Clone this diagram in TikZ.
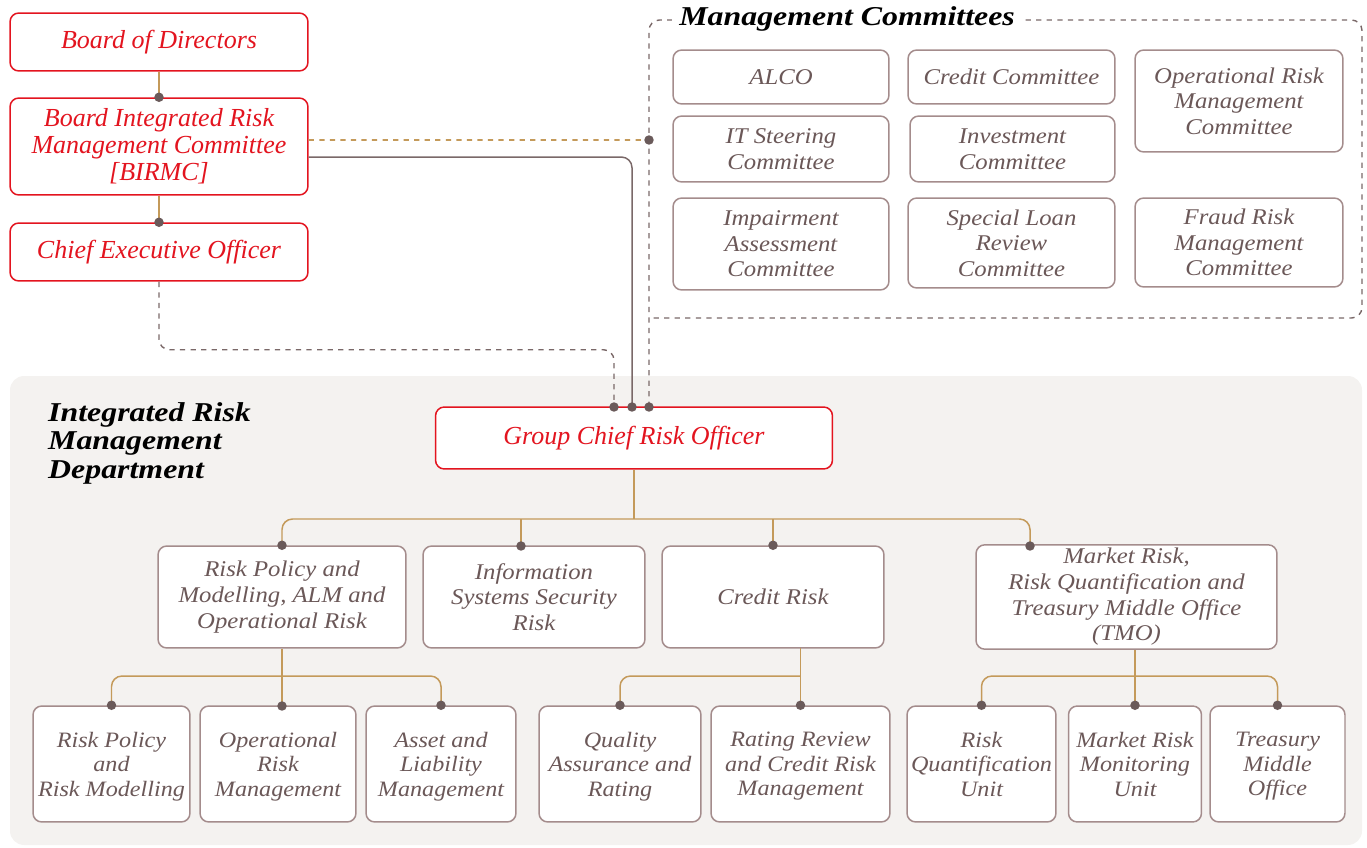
\documentclass[tikz,border=0pt]{standalone}
\usepackage{fontspec}
\setmainfont{Liberation Serif}
\newfontfamily\boxfont{Liberation Serif}[FakeStretch=1.1]
\newfontfamily\headfont{Liberation Serif}[FakeStretch=1.17]
\usepackage{xcolor}
\usetikzlibrary{calc}
\definecolor{crimson}{HTML}{E3141F}
\definecolor{browntext}{HTML}{6B5858}
\definecolor{boxline}{HTML}{A48C8C}
\definecolor{tanline}{HTML}{C49A5A}
\definecolor{greyline}{HTML}{7A6868}
\definecolor{dotc}{HTML}{6A5A5A}
\definecolor{panelc}{HTML}{F4F2F0}

\begin{document}
\begin{tikzpicture}[x=0.02cm,y=-0.02cm,
	box/.style={draw=boxline, line width=0.85pt, fill=white, rounded corners=5pt, align=center, inner sep=2pt, text=browntext, font=\boxfont\itshape\fontsize{12.8}{14.6}\selectfont},
	redbox/.style={box, draw=crimson, text=crimson, font=\itshape\fontsize{14.8}{15.4}\selectfont},
	lowbox/.style={box, font=\boxfont\itshape\fontsize{12.5}{13.9}\selectfont, minimum height=2.32cm, text depth=-6pt},
	title/.style={font=\headfont\bfseries\itshape\fontsize{15.5}{16.2}\selectfont, text=black},
	link/.style={draw=tanline, line width=0.85pt, rounded corners=6pt},
	dashlink/.style={draw=greyline, line width=0.8pt, dashed, rounded corners=6pt},
	tandash/.style={draw=tanline, line width=0.9pt, dashed}]
		\useasboundingbox (0,0) rectangle (1367,848);
		\fill[panelc, rounded corners=8pt] (10,376) rectangle (1362,845);
		\node[title, anchor=north west, align=left] (irmd) at (42,396) {Integrated Risk\\Management\\Department};

		\node[redbox, minimum width=5.96cm, minimum height=1.16cm] (bod) at (159,42) {Board of Directors};
		\node[redbox, minimum width=5.96cm, minimum height=1.94cm] (birmc) at (159,146.5) {Board Integrated Risk\\Management Committee\\{[BIRMC]}};
		\node[redbox, minimum width=5.96cm, minimum height=1.16cm] (ceo) at (159,252) {Chief Executive Officer};

		\coordinate (framein) at (649,140);
		\coordinate (ceoin) at (614,407);
		\coordinate (croin) at (632,407);
		\coordinate (mcin) at (649,407);
		\draw[dashlink] (mcin) |- (1362,20) |- (649,318);
		\node[title, fill=white, anchor=west, inner sep=4pt] (mctitle) at (672,19) {Management Committees};

		\node[box, minimum width=4.32cm, minimum height=1.08cm] (alco) at (781,77) {ALCO};
		\node[box, minimum width=4.14cm, minimum height=1.08cm] (credcom) at (1011.5,77) {Credit Committee};
		\node[box, minimum width=4.16cm, minimum height=2.04cm] (oprcom) at (1239,101) {Operational Risk\\Management\\Committee};
		\node[box, minimum width=4.32cm, minimum height=1.32cm] (itsc) at (781,149) {IT Steering\\Committee};
		\node[box, minimum width=4.10cm, minimum height=1.32cm] (invcom) at (1012.5,149) {Investment\\Committee};
		\node[box, minimum width=4.32cm, minimum height=1.84cm] (impcom) at (781,244) {Impairment\\Assessment\\Committee};
		\node[box, minimum width=4.14cm, minimum height=1.80cm] (slrc) at (1011.5,243) {Special Loan\\Review\\Committee};
		\node[box, minimum width=4.16cm, minimum height=1.78cm] (frcom) at (1239,242.5) {Fraud Risk\\Management\\Committee};

		\node[redbox, minimum width=7.94cm, minimum height=1.24cm] (gcro) at (634,438) {Group Chief Risk Officer};

		\node[box, minimum width=4.96cm, minimum height=2.04cm] (rpm) at (282,597) {Risk Policy and\\Modelling, ALM and\\Operational Risk};
		\node[box, minimum width=4.44cm, minimum height=2.04cm] (iss) at (534,597) {Information\\Systems Security\\Risk};
		\node[box, minimum width=4.44cm, minimum height=2.04cm] (cr) at (773,597) {Credit Risk};
		\node[box, minimum width=6.02cm, minimum height=2.04cm] (mkt) at (1126.5,597) {Market Risk,\\Risk Quantification and\\Treasury Middle Office\\(TMO)};

		\node[lowbox, minimum width=3.14cm] (rprm) at (111.5,764) {Risk Policy\\and\\Risk Modelling};
		\node[lowbox, minimum width=3.12cm] (orm) at (278,764) {Operational\\Risk\\Management};
		\node[lowbox, minimum width=3.00cm] (alm) at (441,764) {Asset and\\Liability\\Management};
		\node[lowbox, minimum width=3.24cm] (qar) at (620,764) {Quality\\Assurance and\\Rating};
		\node[lowbox, minimum width=3.58cm] (rrcr) at (800.5,764) {Rating Review\\and Credit Risk\\Management};
		\node[lowbox, minimum width=2.98cm] (rqu) at (981.5,764) {Risk\\Quantification\\Unit};
		\node[lowbox, minimum width=2.66cm] (mrmu) at (1135,764) {Market Risk\\Monitoring\\Unit};
		\node[lowbox, minimum width=2.70cm] (tmo) at (1277.5,764) {Treasury\\Middle\\Office};

		\draw[link] (bod) -- (birmc);
		\draw[link] (birmc) -- (ceo);
		\draw[tandash] ([yshift=3.7pt]birmc.east) -- (framein);
		\draw[draw=greyline, line width=0.85pt, rounded corners=6pt] ([yshift=-6pt]birmc.east) -| (croin);
		\draw[dashlink] (ceo.south) -- ++(0,68) -| (ceoin);

		\coordinate (bus) at (634,519);
		\coordinate (issin) at (521,546);
		\coordinate (mktin) at (1030,546);
		\draw[link] (gcro.south) -- (bus);
		\draw[link] (rpm.north) |- (bus) -| (mktin);
		\draw[link] (issin) -- (issin |- bus);
		\draw[link] (cr.north) -- (cr.north |- bus);

		\coordinate (bus2) at (283,676);
		\coordinate (ormin) at (282,706);
		\coordinate (crout) at (800.5,648);
		\draw[link] (rpm.south) -- (ormin);
		\draw[link] (rprm.north) |- (bus2) -| (alm.north);
		\draw[link] (crout) -- (rrcr.north);
		\draw[link] (qar.north) |- (crout |- bus2);
		\draw[link] (mrmu.north |- mkt.south) -- (mrmu.north);
		\draw[link] (rqu.north) |- (mrmu.north |- bus2) -| (tmo.north);

		\foreach \p in {birmc.north, ceo.north, framein, ceoin, croin, mcin, rpm.north, issin, cr.north, mktin, rprm.north, ormin, alm.north, qar.north, rrcr.north, rqu.north, mrmu.north, tmo.north}
			\fill[dotc] (\p) circle (2.7pt);
	\end{tikzpicture}
\end{document}
